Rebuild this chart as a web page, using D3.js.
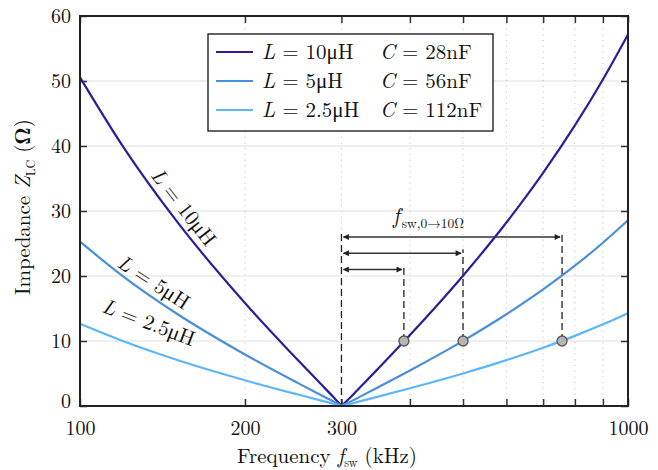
<!DOCTYPE html>
<html><head><meta charset="utf-8">
<script src="https://cdn.jsdelivr.net/npm/d3@7"></script>
<style>
body{margin:0;background:#fff}
text{font-family:"Latin Modern Roman","Liberation Serif","DejaVu Serif",serif;fill:#111}
</style>
</head><body><svg id="c" width="658" height="470"></svg>
<script>
// ---- data ----
const freqs = [100,120,150,200,250,280,290,300,310,320,350,400,500,600,700,800,900,1000];
const zL10  = [50.56,39.83,28.47,15.85,7.03,2.71,1.38,0,1.14,2.34,5.75,10.92,20.05,28.23,35.86,43.16,50.23,57.15];
const zL5   = [25.28,19.91,14.23,7.93,3.52,1.35,0.69,0,0.57,1.17,2.88,5.46,10.02,14.11,17.93,21.58,25.12,28.57];
const zL2_5 = [12.64,9.96,7.12,3.96,1.76,0.68,0.35,0,0.29,0.59,1.44,2.73,5.01,7.06,8.97,10.79,12.56,14.29];
const seriesNames = ["L10","L5","L2.5"];
const legendL = ["10μH","5μH","2.5μH"];
const legendC = ["28nF","56nF","112nF"];
const curveLabels = ["10μH","5μH","2.5μH"];
const markerF = [390, 500, 758];
const markerZ = [10, 10, 10];
const resonanceF = 300;
const arrowZ = [21, 23.5, 26];
const xTickLabels = [100, 200, 300, 1000];
const xMinorTicks = [400,500,600,700,800,900];
const yTicks = [0,10,20,30,40,50,60];
const colors = ["#2a1f98", "#4b8fd8", "#5cb6fa"];

const svg = d3.select("#c");
const m = {l:80, r:30, t:16, b:64};
const W = 658, H = 470;
const x = d3.scaleLog().domain([100,1000]).range([m.l, W-m.r]);
const y = d3.scaleLinear().domain([0,60]).range([H-m.b, m.t]);
const x0 = m.l, x1 = W-m.r, y0 = H-m.b, y1 = m.t;
const FS = "21px";

// grid
const g = svg.append("g");
g.selectAll(".hg").data(yTicks.filter(v=>v>0&&v<60)).enter().append("line")
  .attr("x1",x0).attr("x2",x1).attr("y1",d=>y(d)).attr("y2",d=>y(d))
  .attr("stroke","#dedede").attr("stroke-width",1.2);
g.selectAll(".vg").data([200,300].concat(xMinorTicks)).enter().append("line")
  .attr("x1",d=>x(d)).attr("x2",d=>x(d)).attr("y1",y0).attr("y2",y1)
  .attr("stroke","#c4c4c4").attr("stroke-width",1).attr("stroke-dasharray","1.2,4.5");

// axes (inward ticks)
const axB = d3.axisBottom(x).tickValues(xTickLabels.concat(xMinorTicks)).tickSize(-7).tickPadding(15)
  .tickFormat(d=> xTickLabels.includes(d) ? d : "");
const axT = d3.axisTop(x).tickValues(xTickLabels.concat(xMinorTicks)).tickSize(-7).tickFormat("");
const axL = d3.axisLeft(y).tickValues(yTicks).tickSize(-7).tickPadding(9);
const axR = d3.axisRight(y).tickValues(yTicks).tickSize(-7).tickFormat("");
function styleAx(sel){
  sel.select(".domain").remove();
  sel.selectAll(".tick line").attr("stroke","#333").attr("stroke-width",1.5);
  sel.selectAll("text").style("font-size","20px").attr("fill","#111");
}
svg.append("g").attr("transform",`translate(0,${y0})`).call(axB).call(styleAx);
svg.append("g").attr("transform",`translate(0,${y1})`).call(axT).call(styleAx);
const gL = svg.append("g").attr("transform",`translate(${x0},0)`).call(axL).call(styleAx);
gL.selectAll(".tick text").filter(d=>d===0).attr("dy","0.08em");
svg.append("g").attr("transform",`translate(${x1},0)`).call(axR).call(styleAx);

// dashed vertical lines + arrows
const defs = svg.append("defs");
defs.append("marker").attr("id","ah").attr("viewBox","0 0 10 10").attr("refX",9).attr("refY",5)
  .attr("markerWidth",7).attr("markerHeight",6).attr("orient","auto-start-reverse")
  .attr("markerUnits","userSpaceOnUse")
  .append("path").attr("d","M0,0 L10,5 L0,10 z").attr("fill","#222");
svg.append("line").attr("x1",x(resonanceF)).attr("x2",x(resonanceF)).attr("y1",y(0)).attr("y2",y(d3.max(arrowZ)+0.9))
  .attr("stroke","#222").attr("stroke-width",1.3).attr("stroke-dasharray","7,4");
markerF.forEach((f,i)=>{
  svg.append("line").attr("x1",x(f)).attr("x2",x(f)).attr("y1",y(markerZ[i])).attr("y2",y(arrowZ[i]+0.6))
    .attr("stroke","#222").attr("stroke-width",1.3).attr("stroke-dasharray","7,4");
  svg.append("line").attr("x1",x(resonanceF)+2).attr("x2",x(f)-2).attr("y1",y(arrowZ[i])).attr("y2",y(arrowZ[i]))
    .attr("stroke","#333").attr("stroke-width",1.4)
    .attr("marker-start","url(#ah)").attr("marker-end","url(#ah)");
});
const ann = svg.append("text").attr("x",393).attr("y",223).style("font-size","22px");
ann.append("tspan").style("font-style","italic").text("f");
ann.append("tspan").attr("dy",5).attr("dx",2).style("font-size","13.5px").text("sw,0→10Ω");

// curves
const allZ = [zL10, zL5, zL2_5];
const line = d3.line().x(d=>x(d[0])).y(d=>y(d[1])).curve(d3.curveMonotoneX);
allZ.forEach((zs,i)=>{
  const pts = freqs.map((f,j)=>[f,zs[j]]);
  const k = freqs.indexOf(resonanceF);
  [pts.slice(0,k+1), pts.slice(k)].forEach(seg=>{
    svg.append("path").attr("d",line(seg)).attr("fill","none")
      .attr("stroke",colors[i]).attr("stroke-width",2.2);
  });
});

// markers
markerF.forEach((f,i)=>{
  svg.append("circle").attr("cx",x(f)).attr("cy",y(markerZ[i])).attr("r",5)
    .attr("fill","#b5b5b5").attr("stroke","#555").attr("stroke-width",1.3);
});

// curve labels
const clPos = [[184,207,52],[154,282,33],[149,322,21]];
curveLabels.forEach((t,i)=>{
  const [cx,cy,a] = clPos[i];
  const tx = svg.append("text").attr("transform",`translate(${cx},${cy}) rotate(${a})`)
    .attr("text-anchor","middle").attr("dy","0.35em").style("font-size",FS);
  tx.append("tspan").style("font-style","italic").text("L");
  tx.append("tspan").text(" = " + t);
});

// frame
svg.append("rect").attr("x",x0).attr("y",y1).attr("width",x1-x0).attr("height",y0-y1)
  .attr("fill","none").attr("stroke","#222").attr("stroke-width",2);

// legend
const lg = svg.append("g");
lg.append("rect").attr("x",208).attr("y",34).attr("width",285).attr("height",97)
  .attr("fill","#fff").attr("stroke","#111").attr("stroke-width",1.3);
legendL.forEach((t,i)=>{
  const yy = 52 + i*29;
  lg.append("line").attr("x1",216).attr("x2",253).attr("y1",yy).attr("y2",yy)
    .attr("stroke",colors[i]).attr("stroke-width",2.2);
  const t1 = lg.append("text").attr("x",262).attr("y",yy).attr("dy","0.35em").style("font-size",FS);
  t1.append("tspan").style("font-style","italic").text("L");
  t1.append("tspan").text(" = " + t);
  const t2 = lg.append("text").attr("x",380).attr("y",yy).attr("dy","0.35em").style("font-size",FS);
  t2.append("tspan").style("font-style","italic").text("C");
  t2.append("tspan").text(" = " + legendC[i]);
});

// axis labels
const xl = svg.append("text").attr("x",327).attr("y",463).attr("text-anchor","middle").style("font-size",FS);
xl.append("tspan").text("Frequency ");
xl.append("tspan").style("font-style","italic").text("f");
xl.append("tspan").attr("dy",4).style("font-size","12px").text("sw");
xl.append("tspan").attr("dy",-4).text("  (kHz)");
const yl = svg.append("text").attr("transform","translate(30,207) rotate(-90)").attr("text-anchor","middle").style("font-size",FS);
yl.append("tspan").text("Impedance ");
yl.append("tspan").style("font-style","italic").text("Z");
yl.append("tspan").attr("dy",5).style("font-size","12px").text("LC");
yl.append("tspan").attr("dy",-5).text("  (");
yl.append("tspan").style("font-weight","bold").text("Ω");
yl.append("tspan").text(")");
</script></body></html>
